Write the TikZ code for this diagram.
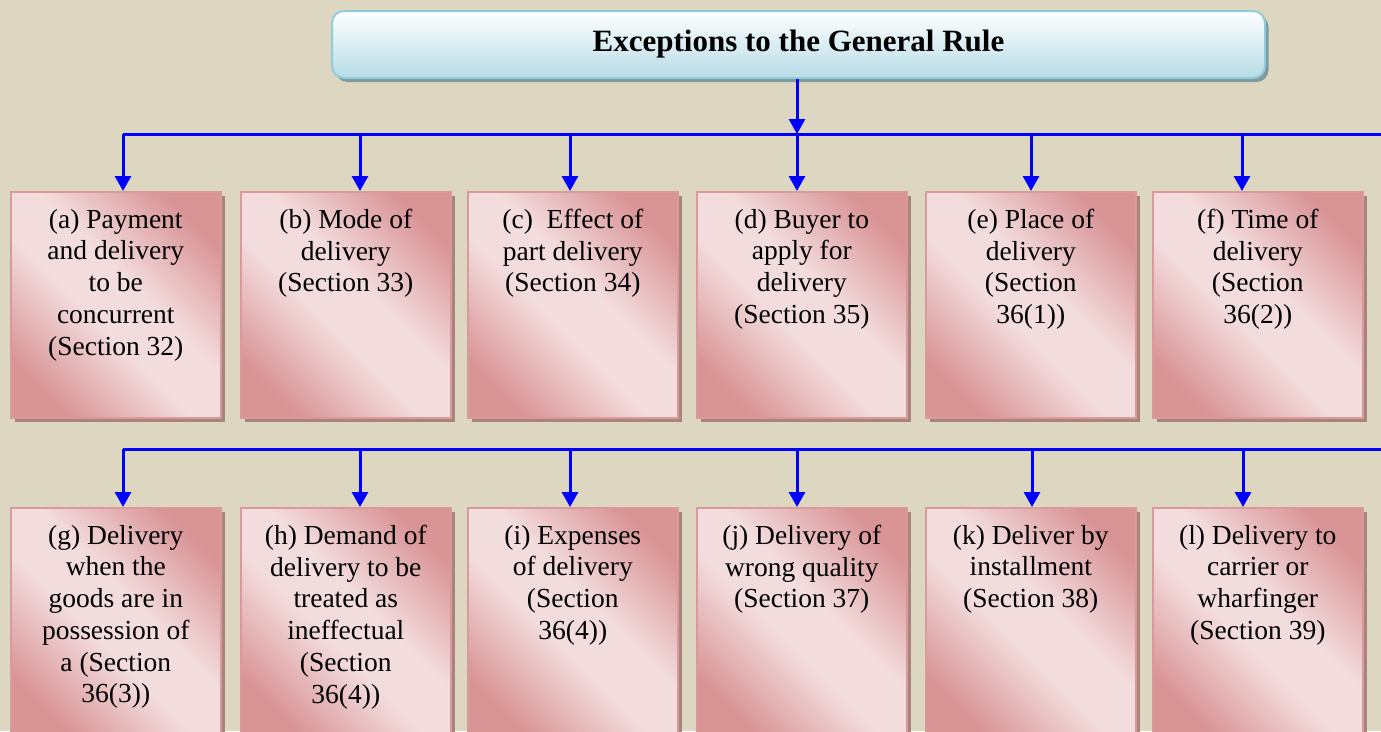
\documentclass[tikz,border=0pt]{standalone}
\usepackage{fontspec}
\setmainfont{Liberation Serif}
\usetikzlibrary{arrows.meta}
\definecolor{bg}{HTML}{DDD6C1}
\definecolor{pklight}{HTML}{F3DCDD}
\definecolor{pkmid}{HTML}{E6B8BA}
\definecolor{pkdark}{HTML}{D99496}
\definecolor{pkborder}{HTML}{D99A9C}
\definecolor{pkshadow}{HTML}{A8847C}
\definecolor{bluetop}{HTML}{FFFFFF}
\definecolor{bluebot}{HTML}{B5DCE6}
\definecolor{blueborder}{HTML}{92CCDA}
\definecolor{blueshadow}{HTML}{7F9A9C}
\definecolor{linkblue}{HTML}{0000FF}
\pgfdeclareverticalshading{pinkband}{100bp}{color(0bp)=(pkdark); color(24bp)=(pkdark); color(34bp)=(pkmid); color(44bp)=(pklight); color(56bp)=(pklight); color(66bp)=(pkmid); color(76bp)=(pkdark); color(100bp)=(pkdark)}
\begin{document}
\begin{tikzpicture}[x=1pt,y=-1pt,
  pinkbox/.style={shade, shading=pinkband, shading angle=-45, draw=pkborder, line width=1.6pt,
    minimum width=210pt, minimum height=226pt, inner sep=0pt, anchor=north west,
    preaction={fill=pkshadow, transform canvas={xshift=4pt, yshift=-4pt}}},
  boxtext/.style={anchor=north, align=center, inner sep=0pt, text=black,
    font=\fontsize{27.5}{31.7}\selectfont},
  titlebox/.style={top color=bluetop, bottom color=bluebot, draw=blueborder, line width=2pt,
    rounded corners=12pt, minimum width=933pt, minimum height=67pt, inner sep=0pt,
    font=\fontsize{31}{36}\selectfont\bfseries,
    preaction={fill=blueshadow, transform canvas={xshift=3.5pt, yshift=-4pt}}},
  bus/.style={draw=linkblue, line width=3pt},
  arr/.style={draw=linkblue, line width=3pt, -{Triangle[width=16pt,length=15pt]}}
]
\useasboundingbox (0,0) rectangle (1381,731);
\fill[bg] (0,0) rectangle (1381,731);
\clip (0,0) rectangle (1381,731);

% title
\node[titlebox] (title) at (798.5,44.5) {Exceptions to the General Rule};

% bus coordinates
\coordinate (r1a) at (123,134);
\coordinate (r1b) at (360,134);
\coordinate (r1c) at (570,134);
\coordinate (r1d) at (797,134);
\coordinate (r1e) at (1031,134);
\coordinate (r1f) at (1242,134);
\coordinate (r1end) at (1381,134);
\coordinate (r2a) at (123,449);
\coordinate (r2b) at (360,449);
\coordinate (r2c) at (570,449);
\coordinate (r2d) at (797,449);
\coordinate (r2e) at (1032,449);
\coordinate (r2f) at (1243,449);
\coordinate (r2end) at (1381,449);

% row 1 boxes
\node[pinkbox] (pa) at (10,191) {};
\node[pinkbox] (pb) at (240,191) {};
\node[pinkbox] (pc) at (467,191) {};
\node[pinkbox] (pd) at (696,191) {};
\node[pinkbox] (pe) at (925,191) {};
\node[pinkbox] (pf) at (1152,191) {};
% row 2 boxes
\node[pinkbox] (pg) at (10,507) {};
\node[pinkbox] (ph) at (240,507) {};
\node[pinkbox] (pi) at (467,507) {};
\node[pinkbox] (pj) at (696,507) {};
\node[pinkbox] (pk) at (925,507) {};
\node[pinkbox] (pl) at (1152,507) {};

% texts
\node[boxtext] (ta) at ([yshift=-18pt]pa.north) {(a) Payment\\and delivery\\to be\\concurrent\\(Section 32)};
\node[boxtext] (tb) at ([yshift=-18pt]pb.north) {(b) Mode of\\delivery\\(Section 33)};
\node[boxtext] (tc) at ([yshift=-18pt]pc.north) {(c)\ \ Effect of\\part delivery\\(Section 34)};
\node[boxtext] (td) at ([yshift=-18pt]pd.north) {(d) Buyer to\\apply for\\delivery\\(Section 35)};
\node[boxtext] (te) at ([yshift=-18pt]pe.north) {(e) Place of\\delivery\\(Section\\36(1))};
\node[boxtext] (tf) at ([yshift=-18pt]pf.north) {(f) Time of\\delivery\\(Section\\36(2))};
\node[boxtext] (tg) at ([yshift=-18pt]pg.north) {(g) Delivery\\when the\\goods are in\\possession of\\a (Section\\36(3))};
\node[boxtext] (th) at ([yshift=-18pt]ph.north) {(h) Demand of\\delivery to be\\treated as\\ineffectual\\(Section\\36(4))};
\node[boxtext] (ti) at ([yshift=-18pt]pi.north) {(i) Expenses\\of delivery\\(Section\\36(4))};
\node[boxtext] (tj) at ([yshift=-18pt]pj.north) {(j) Delivery of\\wrong quality\\(Section 37)};
\node[boxtext] (tk) at ([yshift=-18pt]pk.north) {(k) Deliver by\\installment\\(Section 38)};
\node[boxtext] (tl) at ([yshift=-18pt]pl.north) {(l) Delivery to\\carrier or\\wharfinger\\(Section 39)};

% connectors
\draw[bus] (r1a) -- (r1end);
\draw[bus] (r2a) -- (r2end);
\draw[arr] (title.south -| r1d) -- (r1d);
\draw[arr] (r1a) -- (r1a |- pa.north);
\draw[arr] (r1b) -- (r1b |- pb.north);
\draw[arr] (r1c) -- (r1c |- pc.north);
\draw[arr] (r1d) -- (r1d |- pd.north);
\draw[arr] (r1e) -- (r1e |- pe.north);
\draw[arr] (r1f) -- (r1f |- pf.north);
\draw[arr] (r2a) -- (r2a |- pg.north);
\draw[arr] (r2b) -- (r2b |- ph.north);
\draw[arr] (r2c) -- (r2c |- pi.north);
\draw[arr] (r2d) -- (r2d |- pj.north);
\draw[arr] (r2e) -- (r2e |- pk.north);
\draw[arr] (r2f) -- (r2f |- pl.north);
\end{tikzpicture}
\end{document}
